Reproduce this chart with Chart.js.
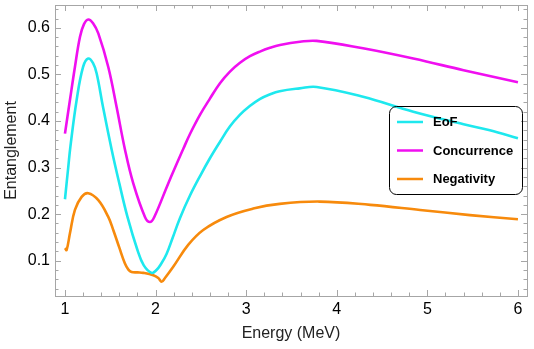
<!DOCTYPE html>
<html>
<head>
<meta charset="utf-8">
<script src="https://cdn.jsdelivr.net/npm/chart.js@4/dist/chart.umd.min.js"></script>
<style>
  html, body { margin: 0; padding: 0; background: #fff; }
  #wrap { width: 534px; height: 349px; }
</style>
</head>
<body>
<div id="wrap"><canvas id="c" width="534" height="349"></canvas></div>
<script>
// values
const eofX = [1.0, 1.037, 1.06, 1.129, 1.20, 1.257, 1.31, 1.35, 1.42, 1.515, 1.60, 1.69, 1.80, 1.87, 1.957, 2.01, 2.06, 2.12, 2.19, 2.27, 2.38, 2.50, 2.60, 2.71, 2.82, 2.93, 3.04, 3.15, 3.26, 3.37, 3.59, 3.778, 4.29, 4.845, 5.4, 5.69, 6.0];
const eofY = [0.232, 0.302, 0.345, 0.445, 0.516, 0.534, 0.524, 0.502, 0.430, 0.339, 0.266, 0.194, 0.123, 0.090, 0.074, 0.080, 0.093, 0.114, 0.150, 0.192, 0.240, 0.285, 0.320, 0.355, 0.388, 0.413, 0.432, 0.447, 0.457, 0.464, 0.470, 0.473, 0.452, 0.420, 0.393, 0.380, 0.363];

const concX = [1.0, 1.055, 1.11, 1.166, 1.21, 1.257, 1.31, 1.368, 1.478, 1.57, 1.662, 1.754, 1.883, 1.938, 1.986, 2.14, 2.31, 2.38, 2.49, 2.60, 2.711, 2.821, 2.932, 3.042, 3.152, 3.263, 3.373, 3.594, 3.778, 4.29, 4.845, 5.4, 6.0];
const concY = [0.373, 0.445, 0.516, 0.581, 0.608, 0.618, 0.610, 0.588, 0.516, 0.430, 0.339, 0.266, 0.194, 0.183, 0.194, 0.266, 0.342, 0.372, 0.413, 0.448, 0.481, 0.506, 0.525, 0.539, 0.549, 0.557, 0.563, 0.570, 0.572, 0.556, 0.534, 0.509, 0.483];

const negX = [1.0, 1.018, 1.055, 1.11, 1.184, 1.257, 1.368, 1.478, 1.533, 1.60, 1.662, 1.70, 1.735, 1.80, 1.865, 1.975, 2.03, 2.067, 2.104, 2.195, 2.36, 2.526, 2.784, 3.078, 3.37, 3.81, 4.37, 4.92, 5.47, 6.0];
const negY = [0.127, 0.123, 0.159, 0.209, 0.237, 0.245, 0.230, 0.194, 0.166, 0.128, 0.094, 0.081, 0.076, 0.075, 0.074, 0.069, 0.063, 0.055, 0.063, 0.087, 0.134, 0.166, 0.194, 0.212, 0.222, 0.227, 0.220, 0.209, 0.198, 0.189];

const xTicks = [1, 2, 3, 4, 5, 6];
const yTicks = [0.1, 0.2, 0.3, 0.4, 0.5, 0.6];
const xMinorStep = 0.2;
const yMinorStep = 0.02;

const pts = (xs, ys) => xs.map((x, i) => ({ x, y: ys[i] }));

// Mathematica-like frame with inward ticks on all four sides
const framePlugin = {
  id: 'frame',
  afterDatasetsDraw(chart) {
    const { ctx, chartArea: a, scales: { x, y } } = chart;
    ctx.save();
    ctx.strokeStyle = '#a6a6a6';
    ctx.lineWidth = 1;
    ctx.beginPath();
    const tick = (px, len, vertical) => {
      if (vertical) {
        ctx.moveTo(px, a.bottom); ctx.lineTo(px, a.bottom - len);
        ctx.moveTo(px, a.top); ctx.lineTo(px, a.top + len);
      } else {
        ctx.moveTo(a.left, px); ctx.lineTo(a.left + len, px);
        ctx.moveTo(a.right, px); ctx.lineTo(a.right - len, px);
      }
    };
    for (let v = Math.ceil(x.min / xMinorStep) * xMinorStep; v <= x.max + 1e-9; v += xMinorStep) {
      const major = xTicks.some(t => Math.abs(t - v) < 1e-6);
      tick(Math.round(x.getPixelForValue(v)) + 0.5, major ? 6 : 3.5, true);
    }
    for (let v = Math.ceil(y.min / yMinorStep) * yMinorStep; v <= y.max + 1e-9; v += yMinorStep) {
      const major = yTicks.some(t => Math.abs(t - v) < 1e-6);
      tick(Math.round(y.getPixelForValue(v)) + 0.5, major ? 6 : 3.5, false);
    }
    ctx.stroke();
    ctx.strokeRect(Math.round(a.left) + 0.5, Math.round(a.top) + 0.5, Math.round(a.right - a.left), Math.round(a.bottom - a.top));
    ctx.restore();
  }
};

// boxed legend inside the plot
const boxLegend = {
  id: 'boxLegend',
  afterDraw(chart) {
    const { ctx, chartArea: a } = chart;
    const bx = a.right - 138, by = a.top + 101, bw = 133, bh = 88;
    ctx.save();
    ctx.strokeStyle = '#000';
    ctx.lineWidth = 1;
    ctx.beginPath();
    ctx.roundRect(bx + 0.5, by + 0.5, bw, bh, 7);
    ctx.stroke();
    ctx.font = 'bold 13px "Liberation Sans", Arial, sans-serif';
    ctx.textBaseline = 'middle';
    ctx.fillStyle = '#000';
    chart.data.datasets.forEach((ds, i) => {
      const ry = by + 16 + i * 28.5;
      ctx.strokeStyle = ds.borderColor;
      ctx.lineWidth = 2.5;
      ctx.beginPath();
      ctx.moveTo(bx + 8, ry);
      ctx.lineTo(bx + 34, ry);
      ctx.stroke();
      ctx.fillText(ds.label, bx + 44, ry + 0.5);
    });
    ctx.restore();
  }
};

const line = (label, data, color) => ({
  label, data, borderColor: color, borderWidth: 2.6, pointRadius: 0,
  tension: 0.4, fill: false
});

const noPad = s => { s.paddingTop = 0; s.paddingBottom = 0; s.paddingLeft = 0; s.paddingRight = 0; };

new Chart(document.getElementById('c'), {
  type: 'line',
  data: {
    datasets: [
      line('EoF', pts(eofX, eofY), '#1ee8ee'),
      line('Concurrence', pts(concX, concY), '#f00ff0'),
      line('Negativity', pts(negX, negY), '#f78a0c')
    ]
  },
  options: {
    responsive: false,
    animation: false,
    layout: { padding: { left: 0, top: 5, right: 7, bottom: 0 } },
    plugins: { legend: { display: false }, tooltip: { enabled: false } },
    scales: {
      x: {
        type: 'linear', min: 0.89, max: 6.1,
        afterBuildTicks: s => { s.ticks = xTicks.map(v => ({ value: v })); },
        afterFit: s => { s.height = 53; noPad(s); },
        grid: { display: false, drawTicks: false },
        border: { display: false },
        ticks: { padding: 4, color: '#000', font: { family: '"Liberation Sans", Arial, sans-serif', size: 16 }, maxRotation: 0 },
        title: { display: true, text: 'Energy (MeV)', color: '#222', padding: { top: 0, bottom: 6 }, font: { family: '"Liberation Sans", Arial, sans-serif', size: 16 } }
      },
      y: {
        type: 'linear', min: 0.0243, max: 0.649,
        afterBuildTicks: s => { s.ticks = yTicks.map(v => ({ value: v })); },
        afterFit: s => { s.width = 55; noPad(s); },
        grid: { display: false, drawTicks: false },
        border: { display: false },
        ticks: { padding: 5, color: '#000', font: { family: '"Liberation Sans", Arial, sans-serif', size: 16 }, callback: v => v.toFixed(1) },
        title: { display: true, text: 'Entanglement', color: '#222', padding: { top: 1.5, bottom: 0 }, font: { family: '"Liberation Sans", Arial, sans-serif', size: 16 } }
      }
    }
  },
  plugins: [framePlugin, boxLegend]
});
</script>
</body>
</html>
